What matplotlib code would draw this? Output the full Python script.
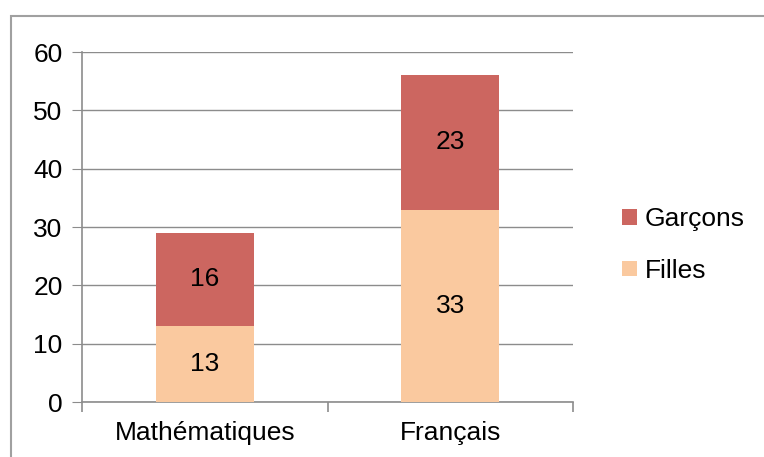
import matplotlib.pyplot as plt
from matplotlib.patches import Rectangle

plt.rcParams['font.family'] = ['Liberation Sans', 'DejaVu Sans']

# data
subjects = ['Mathématiques', 'Français']
filles = [13, 33]
garcons = [16, 23]
yticks = [0, 10, 20, 30, 40, 50, 60]

c_filles = '#FAC99F'
c_garcons = '#CC6660'
grey = '#8C8C8C'
fs = 19

fig = plt.figure(figsize=(7.64, 4.57), dpi=100)
ax = fig.add_axes([82 / 764, 1 - 402 / 457, (573 - 82) / 764, (402 - 52) / 457])

# outer frame of the chart area
fig.patches.append(Rectangle((11 / 764, -0.1), 1.2, 1 - 16 / 457 + 0.1,
                             transform=fig.transFigure, fill=False,
                             edgecolor='#A0A0A0', linewidth=1.5))

x = range(len(subjects))
b1 = ax.bar(x, filles, width=0.4, color=c_filles, label='Filles', zorder=3)
b2 = ax.bar(x, garcons, width=0.4, bottom=filles, color=c_garcons, label='Garçons', zorder=3)

for bars, vals, bottoms in [(b1, filles, [0, 0]), (b2, garcons, filles)]:
    for rect, v, b in zip(bars, vals, bottoms):
        ax.text(rect.get_x() + rect.get_width() / 2, b + v / 2, str(v),
                ha='center', va='center', fontsize=fs, color='black', zorder=4)

ax.set_xlim(-0.5, 1.5)
ax.set_ylim(0, 60)
ax.set_yticks(yticks)
ax.tick_params(axis='y', labelsize=fs, length=7, color=grey, pad=7)
ax.set_xticks(x)
ax.set_xticklabels(subjects, fontsize=fs)
ax.tick_params(axis='x', length=0, pad=14)
# category boundary ticks on the x axis
ax.set_xticks([-0.5, 0.5, 1.5], minor=True)
ax.tick_params(axis='x', which='minor', length=7, color=grey, width=1.2)

ax.grid(axis='y', color=grey, linewidth=1, zorder=0)
for s in ['top', 'right']:
    ax.spines[s].set_visible(False)
for s in ['left', 'bottom']:
    ax.spines[s].set_color(grey)
    ax.spines[s].set_linewidth(1.2)

handles, labels = ax.get_legend_handles_labels()
fig.legend(handles[::-1], labels[::-1], loc='center left',
           bbox_to_anchor=(609 / 764, 1 - 245 / 457), frameon=False,
           fontsize=fs, handlelength=0.55, handleheight=0.55,
           handletextpad=0.3, labelspacing=1.05, borderpad=0)

fig.savefig('out.png', dpi=100)
